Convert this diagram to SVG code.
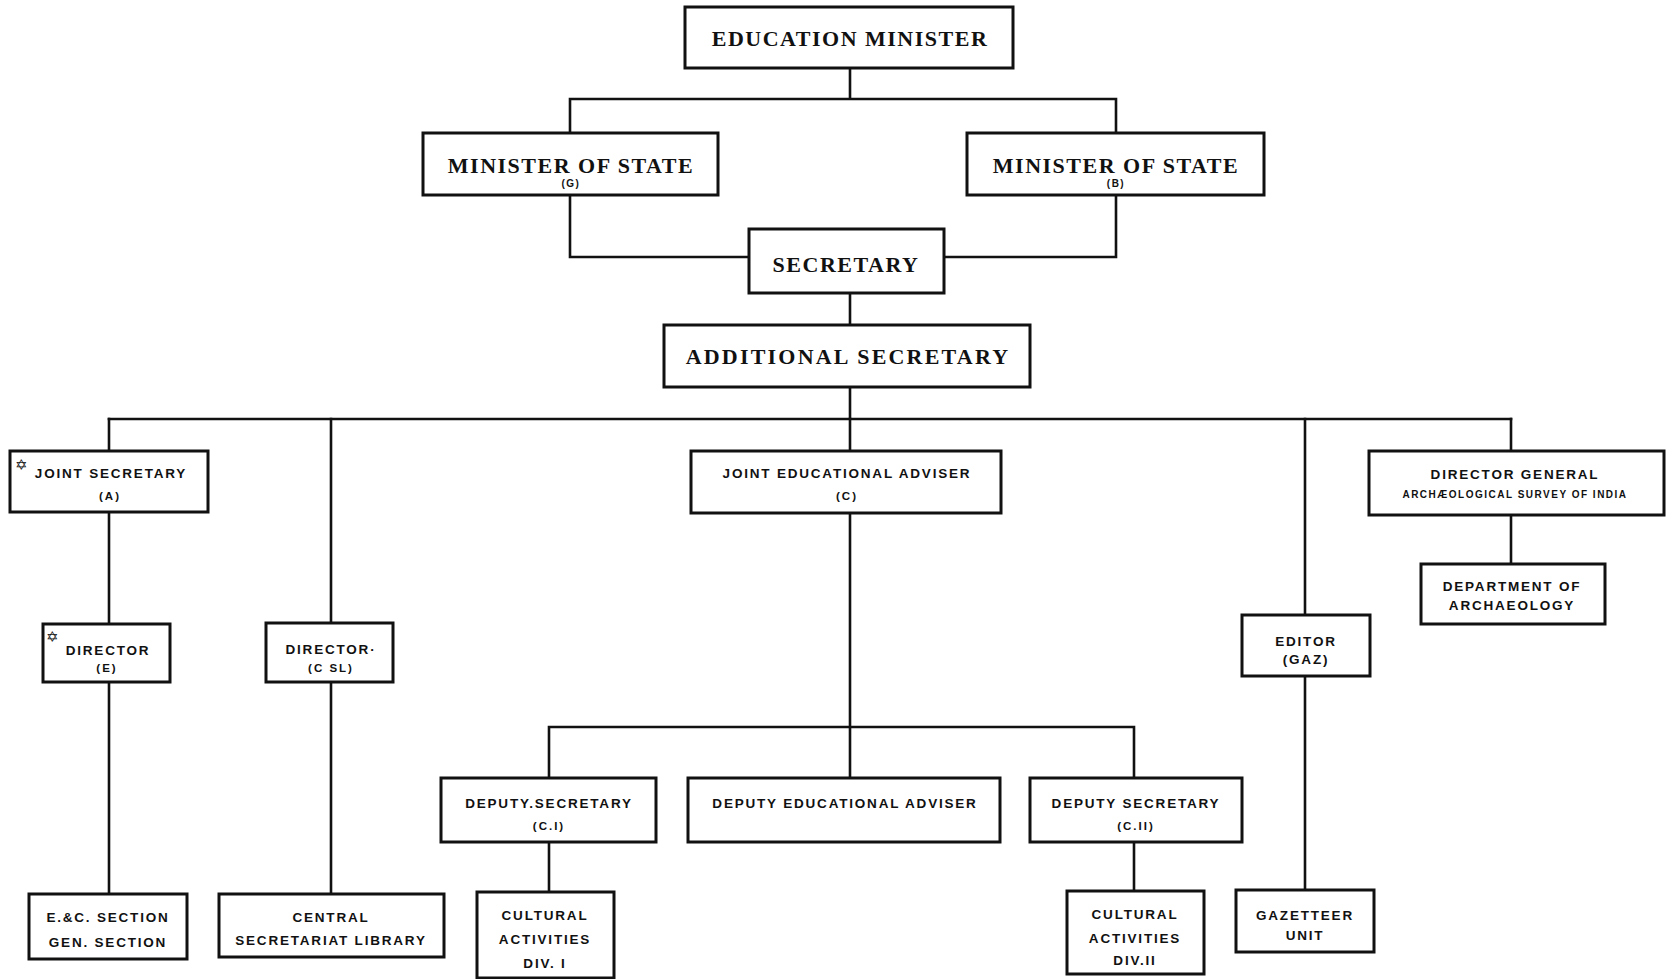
<svg xmlns="http://www.w3.org/2000/svg" width="1672" height="979" viewBox="0 0 1672 979">
<style>
.bg{fill:#fff}
.box{fill:#fff;stroke:#111;stroke-width:3}
.ln{fill:none;stroke:#111;stroke-width:2.6;stroke-linecap:square}
.t1{font-family:"Liberation Serif",serif;font-weight:bold;font-size:22px;fill:#111;text-anchor:middle;letter-spacing:1.5px}
.t2{font-family:"Liberation Sans",sans-serif;font-weight:bold;font-size:13.5px;fill:#111;text-anchor:middle;letter-spacing:1.8px}
.s1{font-family:"Liberation Sans",sans-serif;font-weight:bold;font-size:10px;fill:#111;text-anchor:middle;letter-spacing:1.5px}
.s2{font-family:"Liberation Sans",sans-serif;font-weight:bold;font-size:11.5px;fill:#111;text-anchor:middle;letter-spacing:2px}
.st{font-family:"DejaVu Sans",sans-serif;font-weight:bold;font-size:15px;fill:#111}
</style>
<rect class="bg" width="1672" height="979"/>
<g id="connectors">
<path class="ln" d="M850 68 V99 M570 99 H1116 M570 99 V133 M1116 99 V133"/>
<path class="ln" d="M570 195 V257 H749 M1116 195 V257 H944"/>
<path class="ln" d="M850 293 V325 M850 387 V419 M109 419 H1511"/>
<path class="ln" d="M109 419 V451 M331 419 V623 M850 419 V451 M1305 419 V615 M1511 419 V451"/>
<path class="ln" d="M109 512 V624 M109 682 V894 M331 682 V894"/>
<path class="ln" d="M850 513 V727 M549 727 H1134 M549 727 V778 M850 727 V778 M1134 727 V778"/>
<path class="ln" d="M549 842 V892 M1134 842 V891 M1305 676 V890 M1511 515 V564"/>
</g>
<g id="education-minister"><rect class="box" x="685" y="7" width="328" height="61"/><text class="t1" x="850" y="46">EDUCATION MINISTER</text></g>
<g id="minister-state-g"><rect class="box" x="423" y="133" width="295" height="62"/><text class="t1" x="571" y="173">MINISTER OF STATE</text><text class="s1" x="571" y="187">(G)</text></g>
<g id="minister-state-b"><rect class="box" x="967" y="133" width="297" height="62"/><text class="t1" x="1116" y="173">MINISTER OF STATE</text><text class="s1" x="1116" y="187">(B)</text></g>
<g id="secretary"><rect class="box" x="749" y="229" width="195" height="64"/><text class="t1" x="846" y="272">SECRETARY</text></g>
<g id="additional-secretary"><rect class="box" x="664" y="325" width="366" height="62"/><text class="t1" x="848" y="364" style="letter-spacing:2.2px">ADDITIONAL SECRETARY</text></g>
<g id="joint-secretary-a"><rect class="box" x="10" y="451" width="198" height="61"/><text class="st" x="15" y="470">✡</text><text class="t2" x="111" y="478">JOINT SECRETARY</text><text class="s2" x="110" y="500">(A)</text></g>
<g id="director-e"><rect class="box" x="43" y="624" width="127" height="58"/><text class="st" x="46" y="642">✡</text><text class="t2" x="108" y="655">DIRECTOR</text><text class="s2" x="107" y="672">(E)</text></g>
<g id="director-csl"><rect class="box" x="266" y="623" width="127" height="59"/><text class="t2" x="331" y="654">DIRECTOR·</text><text class="s2" x="331" y="672">(C SL)</text></g>
<g id="ec-section"><rect class="box" x="29" y="894" width="158" height="65"/><text class="t2" x="108" y="922">E.&amp;C. SECTION</text><text class="t2" x="108" y="947">GEN. SECTION</text></g>
<g id="central-library"><rect class="box" x="219" y="894" width="225" height="63"/><text class="t2" x="331" y="922">CENTRAL</text><text class="t2" x="331" y="945">SECRETARIAT LIBRARY</text></g>
<g id="joint-educational-adviser"><rect class="box" x="691" y="451" width="310" height="62"/><text class="t2" x="847" y="478">JOINT EDUCATIONAL ADVISER</text><text class="s2" x="847" y="500">(C)</text></g>
<g id="deputy-secretary-c1"><rect class="box" x="441" y="778" width="215" height="64"/><text class="t2" x="549" y="808">DEPUTY.SECRETARY</text><text class="s2" x="549" y="830">(C.I)</text></g>
<g id="deputy-educational-adviser"><rect class="box" x="688" y="778" width="312" height="64"/><text class="t2" x="845" y="808">DEPUTY EDUCATIONAL ADVISER</text></g>
<g id="deputy-secretary-c2"><rect class="box" x="1030" y="778" width="212" height="64"/><text class="t2" x="1136" y="808">DEPUTY SECRETARY</text><text class="s2" x="1136" y="830">(C.II)</text></g>
<g id="cultural-div1"><rect class="box" x="477" y="892" width="137" height="86"/><text class="t2" x="545" y="920">CULTURAL</text><text class="t2" x="545" y="944">ACTIVITIES</text><text class="t2" x="545" y="968">DIV. I</text></g>
<g id="cultural-div2"><rect class="box" x="1067" y="891" width="137" height="83"/><text class="t2" x="1135" y="919">CULTURAL</text><text class="t2" x="1135" y="943">ACTIVITIES</text><text class="t2" x="1135" y="965">DIV.II</text></g>
<g id="editor-gaz"><rect class="box" x="1242" y="615" width="128" height="61"/><text class="t2" x="1306" y="646">EDITOR</text><text class="t2" x="1306" y="664">(GAZ)</text></g>
<g id="gazetteer-unit"><rect class="box" x="1236" y="890" width="138" height="62"/><text class="t2" x="1305" y="920">GAZETTEER</text><text class="t2" x="1305" y="940">UNIT</text></g>
<g id="director-general"><rect class="box" x="1369" y="451" width="295" height="64"/><text class="t2" x="1515" y="479">DIRECTOR GENERAL</text><text class="s1" x="1515" y="498">ARCHÆOLOGICAL SURVEY OF INDIA</text></g>
<g id="dept-archaeology"><rect class="box" x="1421" y="564" width="184" height="60"/><text class="t2" x="1512" y="591">DEPARTMENT OF</text><text class="t2" x="1512" y="610">ARCHAEOLOGY</text></g>
</svg>
